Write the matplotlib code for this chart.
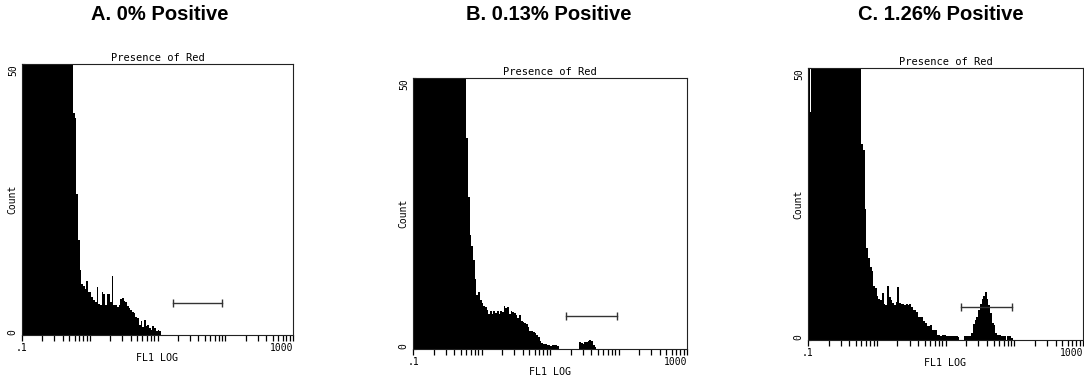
# Kommentarer på svenska, koden på engelska.
# Vad: Tre flödescytometri-histogram (FL1 LOG) med gate-markering, sida vid sida.
# Hur: Räkningar per kanal -> stairs med fyllning på log-x -> gate som linje med ändstreck

# Steg 1 - Importer
import numpy as np
import matplotlib
matplotlib.use("Agg")
import matplotlib.pyplot as plt
from matplotlib.ticker import FixedLocator, LogLocator, NullFormatter

# Steg 2 - Data
# Kanal 0 börjar vid 0.1, varje kanal är 0.025 dekader bred
CHANNEL_START = 0.1
CHANNEL_STEP = 0.025

TITLES = ["A. 0% Positive", "B. 0.13% Positive", "C. 1.26% Positive"]

COUNTS_A = [
    350, 480, 580, 640, 670, 680, 670, 650, 620, 580,
    540, 490, 440, 390, 340, 295, 255, 220, 190, 160,
    136, 116, 100, 88, 78, 70, 64, 59, 55, 52,
    41, 40, 26, 17.5, 12, 9.5, 9, 8.5, 10, 8,
    8, 7, 6.5, 6, 8.8, 5.8, 5.5, 8, 7.5, 5.5,
    7.6, 7.5, 6, 10.9, 5.5, 5.5, 5.2, 5.5, 6.7, 6.8,
    6.3, 6, 5.4, 5, 4.7, 4.3, 4, 3.4, 3.2, 1.8,
    2.5, 1.5, 2.8, 1.6, 1.8, 1.2, 0.9, 1.6, 1.2, 0.8,
    0.9, 0.7,
]

COUNTS_B = [
    420, 560, 640, 700, 720, 710, 690, 660, 620, 580,
    530, 480, 430, 380, 330, 290, 250, 215, 185, 160,
    138, 120, 105, 93, 83, 75, 68, 62, 58, 55,
    52, 39, 28, 21, 19, 16.5, 13, 10, 10.5, 9,
    8.5, 8, 7.8, 7.2, 6.5, 7, 6.5, 7, 6.6, 7,
    6.4, 7, 6.8, 7.9, 7.5, 7.8, 6.5, 7, 6.8, 6.6,
    6.2, 5.8, 6.2, 5.2, 4.9, 4.8, 4.6, 4, 3.3, 3.3,
    3.2, 3, 2.6, 2.2, 1.5, 1.1, 1, 0.9, 0.7, 0.8,
    0.6, 0.8, 0.7, 0.8, 0.6, 0, 0, 0, 0, 0,
    0, 0, 0, 0, 0, 0, 0, 1.2, 1.1, 1,
    1.3, 1.2, 1.5, 1.7, 1.4, 0.8, 0.3,
]

COUNTS_C = [
    300, 42, 380, 520, 640, 700, 720, 710, 690, 650,
    610, 560, 510, 460, 410, 360, 315, 275, 240, 205,
    175, 150, 128, 110, 96, 85, 76, 68, 62, 57,
    53, 36, 35, 24, 17, 15, 13.5, 12.6, 10, 9.5,
    8, 7.5, 7.3, 8.7, 6.7, 6.5, 9.9, 7.9, 7.3, 6.8,
    6.4, 6.9, 9.8, 6.8, 6.6, 6.7, 6.4, 6.6, 6.5, 6.6,
    6, 5.6, 5.5, 5.2, 4.3, 4.3, 4.2, 3.5, 3.2, 2.6,
    2.6, 2.8, 1.9, 1.9, 1.8, 0.9, 0.9, 0.8, 0.9, 0.9,
    0.8, 0.7, 0.7, 0.7, 0.7, 0.7, 0.7, 0.6, 0, 0,
    0, 0.7, 0.7, 0.7, 0.7, 1.2, 3, 3.6, 4.3, 5.5,
    6.7, 7.5, 8, 8.8, 7.5, 6.4, 4.9, 3.1, 2.8, 1.2,
    0.9, 0.9, 0.7, 0.7, 0.7, 0, 0.8, 0.8, 0.3,
]

# Gate (markören) per panel: från, till, höjd
GATE_LOW = [17, 17, 16.8]
GATE_HIGH = [91, 95, 93]
GATE_LEVEL = [5.9, 6.1, 6.1]

X_MAJOR = [0.1, 1, 10, 100, 1000]
X_TICK_LABELS = [".1", "", "", "", "1000"]
Y_TICKS = [0, 12.5, 25, 37.5, 50]
Y_TICK_LABELS = ["0", "", "Count", "", "50"]

# Steg 3 - Layout i pixlar (vänster, topp, höger, botten) för 1084x377
W, H = 1084, 377
AX_BOXES = [(22, 64, 293, 335), (413, 78, 687, 349), (808, 68, 1083, 340)]
TITLE_X = [160, 549, 941]
MONO = "DejaVu Sans Mono"

fig = plt.figure(figsize=(W / 100, H / 100), dpi=100)

all_counts = [COUNTS_A, COUNTS_B, COUNTS_C]
for i, counts in enumerate(all_counts):
    left, top, right, bottom = AX_BOXES[i]
    ax = fig.add_axes([left / W, 1 - bottom / H, (right - left) / W, (bottom - top) / H])

    # Steg 4 - Histogram som fyllda trappsteg
    counts = np.array(counts, dtype=float)
    edges = CHANNEL_START * 10 ** (CHANNEL_STEP * np.arange(len(counts) + 1))
    ax.stairs(counts, edges, fill=True, color="black", linewidth=0)

    # Steg 5 - Gate
    ax.plot([GATE_LOW[i], GATE_HIGH[i]], [GATE_LEVEL[i], GATE_LEVEL[i]],
            color="#333333", linewidth=1.0, marker="|", markersize=6,
            markeredgewidth=1.0)

    ax.set_xscale("log")
    ax.set_xlim(0.1, 1000)
    ax.set_ylim(0, 50)

    # Steg 6 - Axlar och text
    ax.xaxis.set_major_locator(FixedLocator(X_MAJOR))
    ax.set_xticklabels(X_TICK_LABELS, fontsize=7, family=MONO)
    ax.xaxis.set_minor_locator(LogLocator(base=10, subs=np.arange(2, 10)))
    ax.xaxis.set_minor_formatter(NullFormatter())
    ax.tick_params(axis="x", which="both", direction="out", length=4,
                   width=0.9, pad=1.5)
    xlabels = ax.get_xticklabels()
    xlabels[-1].set_horizontalalignment("right")

    ax.set_yticks(Y_TICKS)
    ax.set_yticklabels(Y_TICK_LABELS, rotation=90, fontsize=7, family=MONO)
    ax.tick_params(axis="y", direction="in", length=2.5, width=0.8, pad=3)
    ylabels = ax.get_yticklabels()
    ylabels[0].set_verticalalignment("bottom")
    ylabels[2].set_verticalalignment("center")
    ylabels[4].set_verticalalignment("top")

    for spine in ax.spines.values():
        spine.set_linewidth(0.8)
        spine.set_color("#222222")

    ax.set_title("Presence of Red", fontsize=7.5, family=MONO, pad=2)
    ax.set_xlabel("FL1 LOG", fontsize=7.2, family=MONO, labelpad=0.5)

    fig.text(TITLE_X[i] / W, 1 - 15 / H, TITLES[i], ha="center", va="center",
             fontsize=14.5, fontweight="bold", family="Liberation Sans")

fig.savefig("out.png", dpi=100)
